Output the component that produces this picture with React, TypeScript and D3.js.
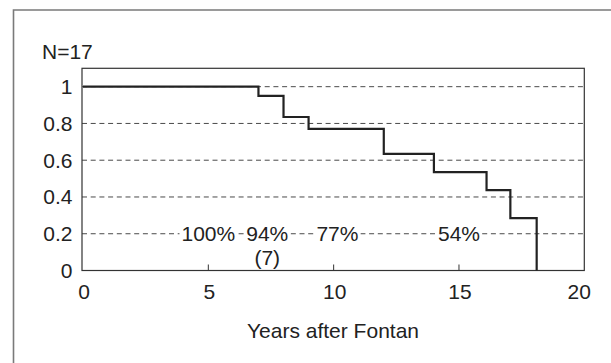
import React, { useEffect, useRef } from "react";
import * as d3 from "d3";

// Kaplan-Meier steps (years after Fontan, survival)
const stepTimes = [0, 7, 8, 9, 12, 14, 16.1, 17.05, 18.1];
const stepSurvival = [1, 0.95, 0.835, 0.77, 0.635, 0.535, 0.437, 0.285, 0];
const endTime = 18.1;

const xTicks = [0, 5, 10, 15, 20];
const yTicks = [0, 0.2, 0.4, 0.6, 0.8, 1];
const yTickLabels = ["0", "0.2", "0.4", "0.6", "0.8", "1"];

// survival rate annotations on the 0.2 gridline
const annotLabels = ["100%", "94%", "77%", "54%"];
const annotX = [5, 7.35, 10.15, 15];
const subLabel = "(7)";

const FONT = "'Liberation Sans', Arial, Helvetica, sans-serif";

const App: React.FC = () => {
  const svgRef = useRef<SVGSVGElement>(null);

  useEffect(() => {
    document.body.style.margin = "0";
    if (!svgRef.current) return;
    const svg = d3.select(svgRef.current);
    svg.selectAll("*").remove();

    const width = 611;
    const height = 363;

    // outer figure border (only top and left visible)
    svg
      .append("path")
      .attr("d", `M13.5,${height} V10 H${width}`)
      .attr("fill", "none")
      .attr("stroke", "#7a7a7a")
      .attr("stroke-width", 1.6);

    const frame = { left: 82, right: 584.3, top: 68.3, bottom: 270.5 };
    const x = d3.scaleLinear().domain([0, 20]).range([83, 584.3]);
    const y = d3.scaleLinear().domain([0, 1.1]).range([270.5, 68.3]);

    // dashed gridlines
    svg
      .append("g")
      .selectAll("line")
      .data(yTicks.filter((d) => d > 0))
      .enter()
      .append("line")
      .attr("x1", frame.left)
      .attr("x2", frame.right)
      .attr("y1", (d) => y(d))
      .attr("y2", (d) => y(d))
      .attr("stroke", "#4a4a4a")
      .attr("stroke-width", 1)
      .attr("stroke-dasharray", "5,3.7");

    // x tick marks (inside)
    svg
      .append("g")
      .selectAll("line")
      .data(xTicks.slice(1, -1))
      .enter()
      .append("line")
      .attr("x1", (d) => x(d))
      .attr("x2", (d) => x(d))
      .attr("y1", frame.bottom)
      .attr("y2", frame.bottom - 6)
      .attr("stroke", "#333")
      .attr("stroke-width", 1);

    // frame
    svg
      .append("rect")
      .attr("x", frame.left)
      .attr("y", frame.top)
      .attr("width", frame.right - frame.left)
      .attr("height", frame.bottom - frame.top)
      .attr("fill", "none")
      .attr("stroke", "#333")
      .attr("stroke-width", 1.2);

    // survival step line
    const pts: [number, number][] = stepTimes.map((t, i) => [t, stepSurvival[i]]);
    pts.push([endTime, 0]);
    const line = d3
      .line<[number, number]>()
      .x((d) => x(d[0]))
      .y((d) => y(d[1]))
      .curve(d3.curveStepAfter);
    svg
      .append("path")
      .datum(pts)
      .attr("d", line)
      .attr("fill", "none")
      .attr("stroke", "#222")
      .attr("stroke-width", 2.2);

    // annotations with white background over the gridline
    const ann = svg
      .append("g")
      .selectAll("g")
      .data(annotLabels)
      .enter()
      .append("g");
    ann.each(function (d, i) {
      const g = d3.select(this);
      const t = g
        .append("text")
        .attr("x", x(annotX[i]))
        .attr("y", y(0.2) + 7.6)
        .attr("text-anchor", "middle")
        .attr("font-family", FONT)
        .attr("font-size", 21)
        .attr("fill", "#222")
        .text(d);
      const bb = (t.node() as SVGTextElement).getBBox();
      g.insert("rect", "text")
        .attr("x", bb.x - 2)
        .attr("y", y(0.2) - 3)
        .attr("width", bb.width + 4)
        .attr("height", 6)
        .attr("fill", "white");
    });
    svg
      .append("text")
      .attr("x", x(annotX[1]))
      .attr("y", 265)
      .attr("text-anchor", "middle")
      .attr("font-family", FONT)
      .attr("font-size", 21)
      .attr("fill", "#222")
      .text(subLabel);

    // y tick labels
    svg
      .append("g")
      .selectAll("text")
      .data(yTicks)
      .enter()
      .append("text")
      .attr("x", 72.5)
      .attr("y", (d) => y(d) + 7.5)
      .attr("text-anchor", "end")
      .attr("font-family", FONT)
      .attr("font-size", 21)
      .attr("fill", "#222")
      .text((d, i) => yTickLabels[i]);

    // x tick labels
    svg
      .append("g")
      .selectAll("text")
      .data(xTicks)
      .enter()
      .append("text")
      .attr("x", (d) => x(d) + (d === 20 ? -5 : 1))
      .attr("y", 299)
      .attr("text-anchor", "middle")
      .attr("font-family", FONT)
      .attr("font-size", 21)
      .attr("fill", "#222")
      .text((d) => String(d));

    // axis title
    svg
      .append("text")
      .attr("x", 333)
      .attr("y", 337.5)
      .attr("text-anchor", "middle")
      .attr("font-family", FONT)
      .attr("font-size", 21)
      .attr("fill", "#222")
      .text("Years after Fontan");

    // sample size
    svg
      .append("text")
      .attr("x", 42)
      .attr("y", 58.5)
      .attr("font-family", FONT)
      .attr("font-size", 21)
      .attr("fill", "#222")
      .text("N=17");
  }, []);

  return <svg ref={svgRef} width={611} height={363} style={{ display: "block" }} />;
};

export default App;
